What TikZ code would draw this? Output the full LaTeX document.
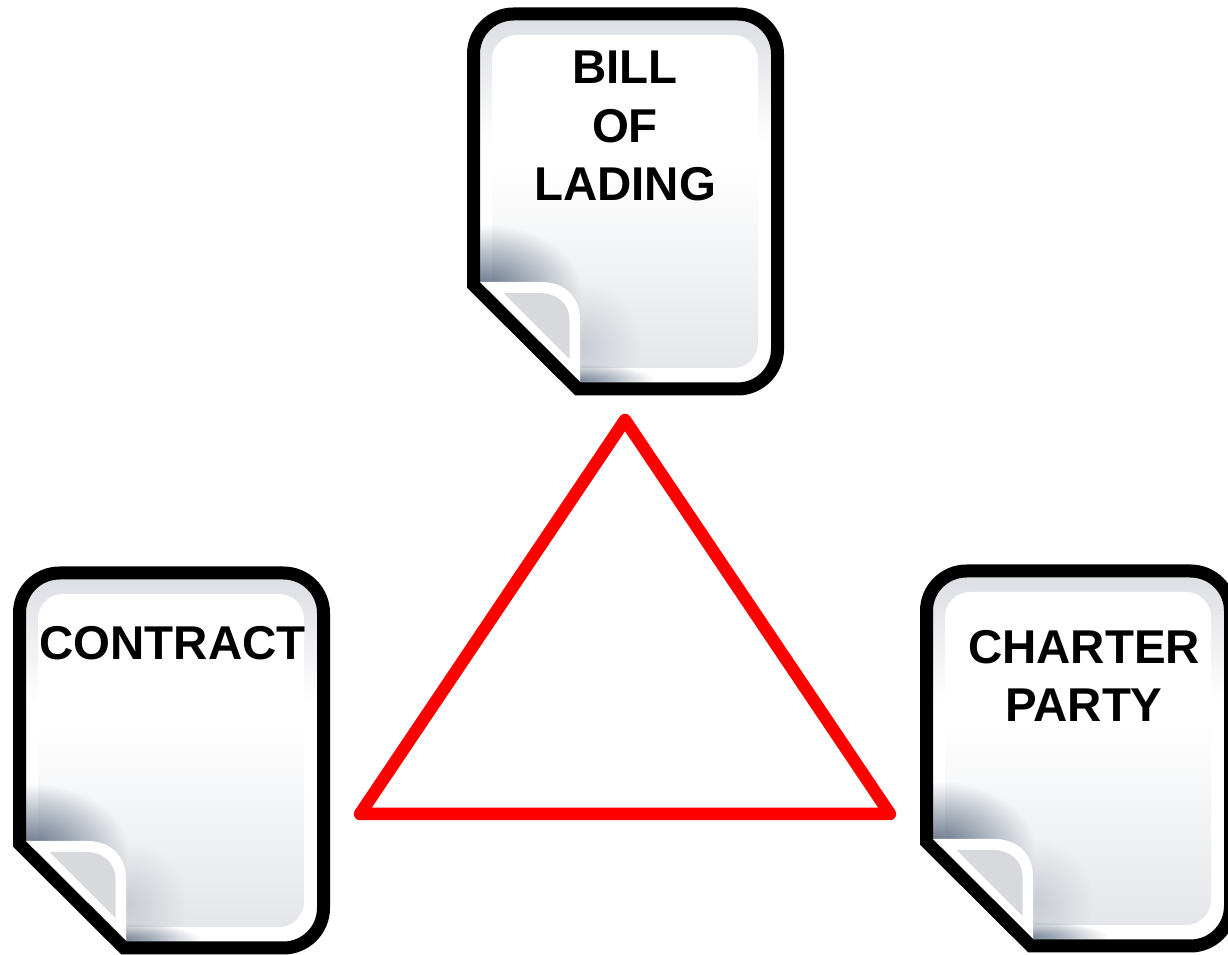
\documentclass[tikz,border=0pt]{standalone}
\usepackage{fontspec}
\setmainfont{Liberation Sans}
\usepackage{xcolor}
\usetikzlibrary{fadings}
\definecolor{bandgray}{HTML}{DADDE2}
\definecolor{pagegray}{HTML}{E4E6E9}
\definecolor{foldgray}{HTML}{D8D9DD}
\definecolor{foldshadow}{HTML}{4F6078}
\tikzfading[name=fade shadow,inner color=transparent!0,outer color=transparent!100]
\tikzset{font={\fontsize{27pt}{33.2pt}\selectfont\bfseries}}
\tikzset{doclabel/.style={align=center,text=black,inner sep=0pt}}
\newcommand{\pageoutline}{(0,271) [rounded corners=.8cm] -- (0,0) -- (304,0) -- (304,375) [sharp corners] -- (104.5,375) -- cycle}

\begin{document}
\begin{tikzpicture}[
x=0.02cm,y=-0.02cm,
dog ear/.pic={
\begin{scope}
\clip \pageoutline;
\shade[top color=bandgray,bottom color=white] (0,0) rectangle (304,130);
\fill[white] (0,130) rectangle (304,375);
\begin{scope}
\clip[rounded corners=.5cm] (18.5,21) rectangle (284.5,354);
\fill[white] (0,0) rectangle (304,375);
\shade[top color=white,bottom color=pagegray] (0,150) rectangle (304,354);
\end{scope}
%shadow round the fold
\fill[foldshadow,path fading=fade shadow,opacity=.9] (8,276) ellipse (100 and 66);
\fill[foldshadow,path fading=fade shadow,opacity=.2] (108,330) ellipse (58 and 62);
\fill[foldshadow,path fading=fade shadow,opacity=.75] (102,366) ellipse (80 and 16);
\end{scope}
%fold
\fill[white] (4,268) -- (68,268) .. controls (92,268) and (106.5,284) .. (106.5,306) -- (106.5,375) -- (100,375) -- cycle;
\fill[foldgray] (30,279) -- (66,279) .. controls (84,279) and (96,290) .. (96,306) -- (96,345) -- cycle;
\draw[line width=13*0.02cm,line join=miter] \pageoutline;
}
]
\useasboundingbox (0,0) rectangle (1228,955);
\clip (0,0) rectangle (1228,955);
\foreach \x/\y in {473.5/14,19.5/573,926.5/571}\pic at (\x,\y){dog ear};

\node[doclabel] (bill) at (625,126) {BILL\\OF\\LADING};
\node[doclabel] (contract) at (172.5,643) {CONTRACT};
\node[doclabel] (charter) at (1084,676) {CHARTER\\PARTY};

%triangle
\coordinate (apex) at (625,420);
\coordinate (left) at (360,814);
\coordinate (right) at (890,814);
\draw[red,line width=0.25cm,line join=round] (apex) -- (right) -- (left) -- cycle;
\end{tikzpicture}
\end{document}
